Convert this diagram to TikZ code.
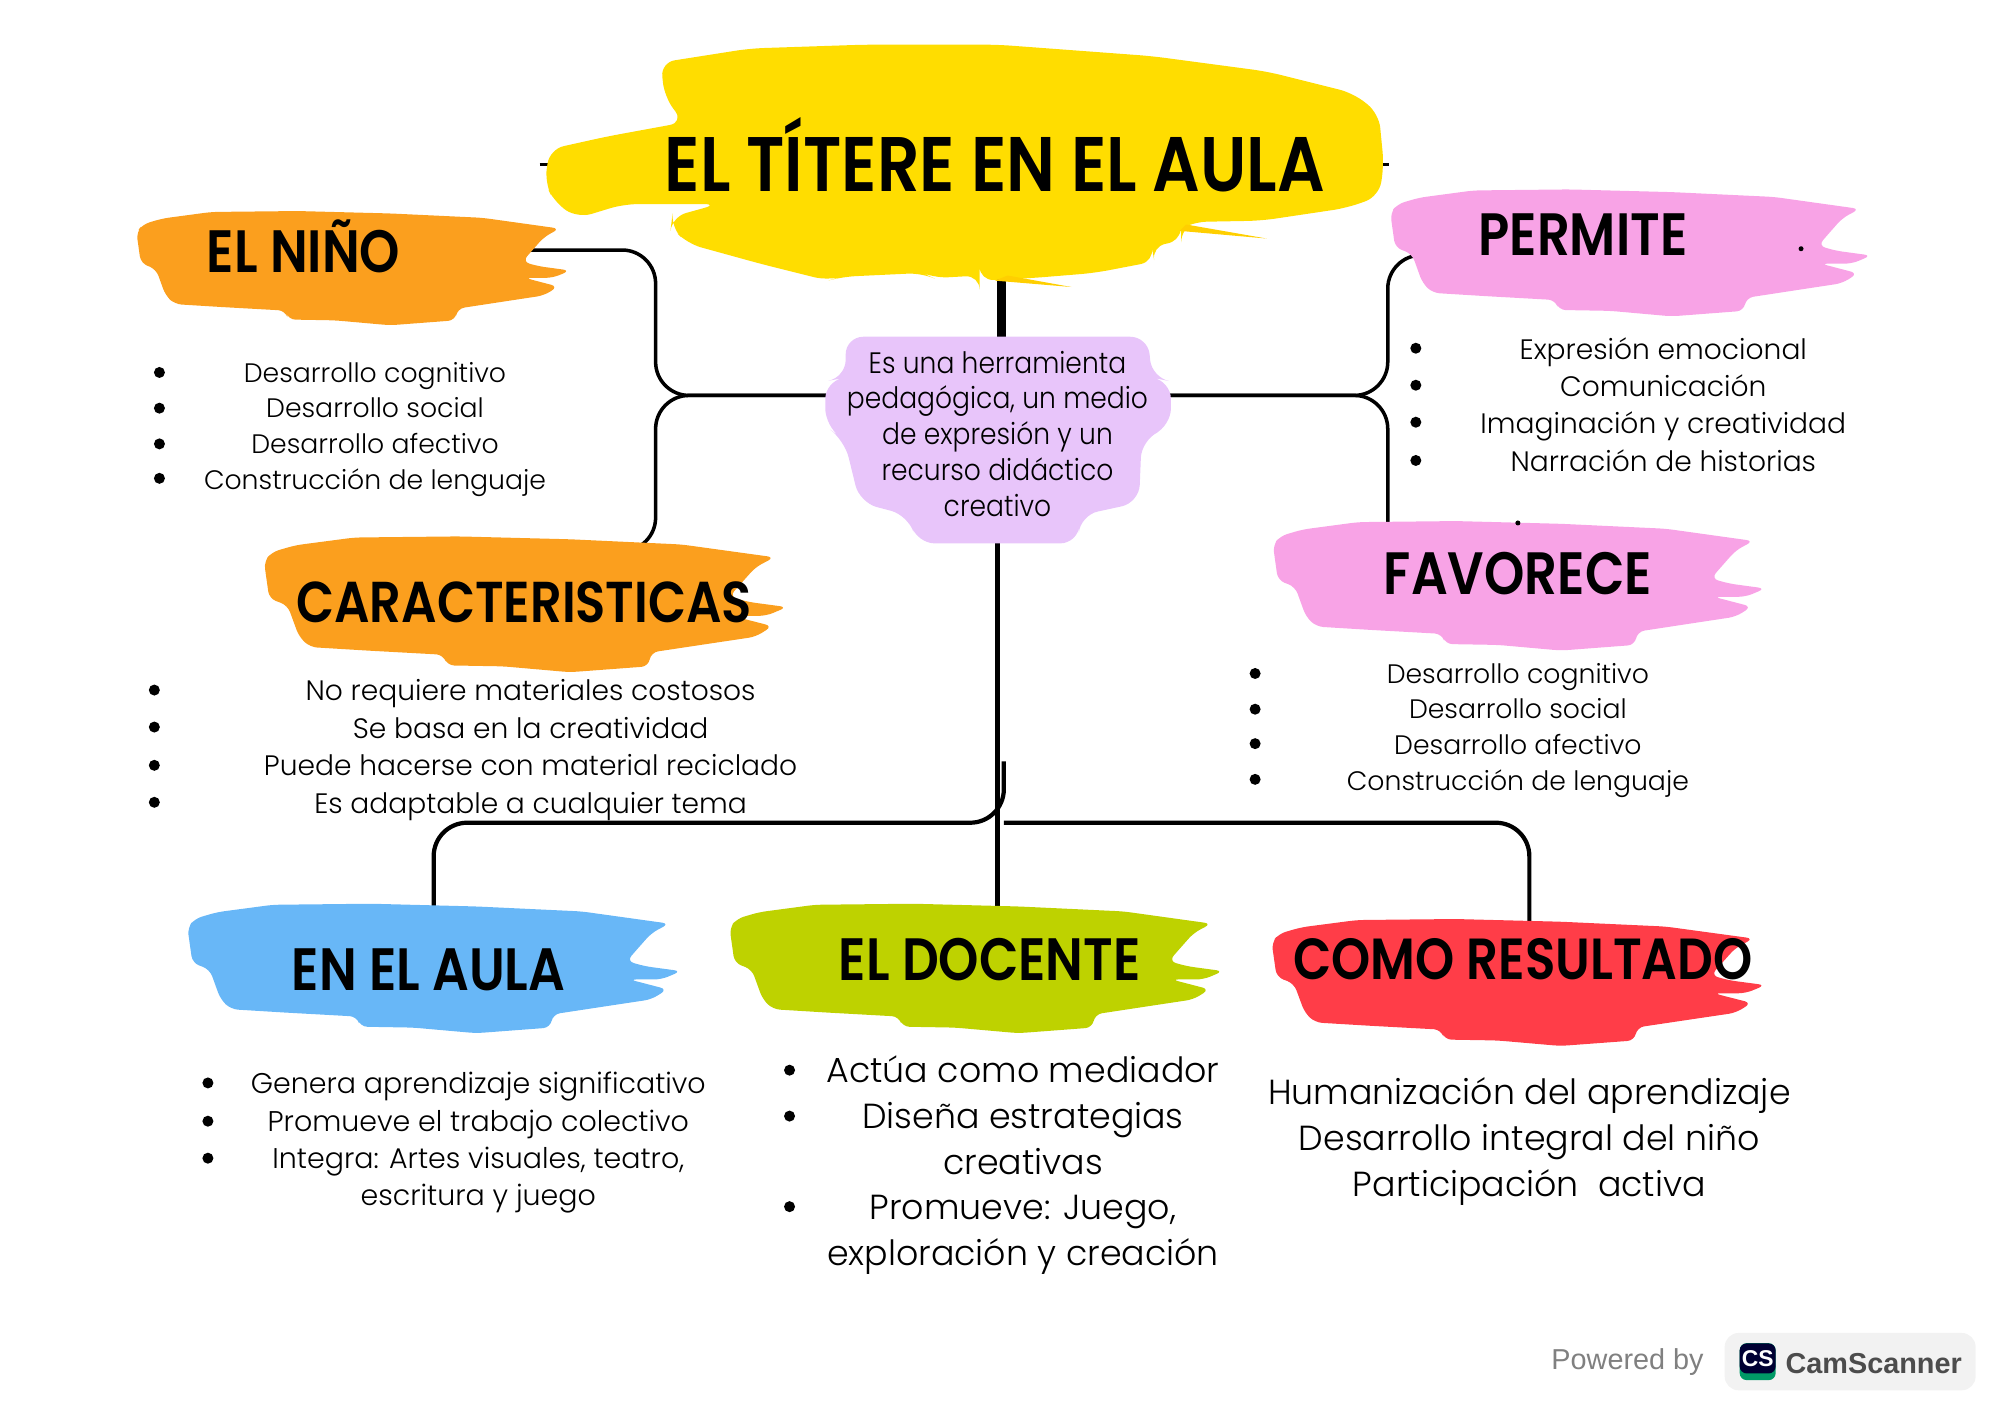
\documentclass[tikz,border=0pt]{standalone}
\usepackage{fontspec}
\usepackage{xcolor}
\usetikzlibrary{backgrounds}
\setmainfont{Poppins}
\newfontfamily\headfont[FakeStretch=0.86]{Poppins SemiBold}
\newfontfamily\bodyfont{Poppins Light}
\newfontfamily\centrofont[FakeStretch=0.9]{Poppins Light}
\newfontfamily\plainfont{Liberation Sans}
\definecolor{brushyellow}{HTML}{FFDD00}
\definecolor{brushorange}{HTML}{FB9F1E}
\definecolor{brushpink}{HTML}{F8A3E6}
\definecolor{brushblue}{HTML}{68B7F7}
\definecolor{brushgreen}{HTML}{BED200}
\definecolor{brushred}{HTML}{FF3D48}
\definecolor{lilac}{HTML}{E8C5FA}
\newcommand{\brushstroke}[5]{%
  \fill[#1,shift={(#2,#3)},x=#4*0.012755cm,y=-#5*0.012755cm,rounded corners=2pt]
    (0,.19) -- (.015,.12) -- (.06,.07) -- (.173,.013) -- (.372,.005) -- (.585,.026)
    -- (.798,.064) -- (.976,.158) -- (.94,.23) -- (.905,.38) -- (.89,.446)
    -- (.926,.485) -- (1,.523) -- (.96,.587) -- (.895,.587) -- (.972,.663)
    -- (.94,.74) -- (.87,.78) -- (.74,.855) -- (.735,.957) -- (.585,1)
    -- (.457,.957) -- (.35,.95) -- (.343,.872) -- (.2,.842) -- (.088,.816)
    -- (.067,.74) -- (.045,.51) -- (.01,.46) -- cycle;
}
\tikzset{
    link/.style = {
        draw            = black,
        line width      = 1pt,
        rounded corners = 0.335cm,
    },
    head/.style = {
        inner sep = 0pt,
        font      = \headfont\fontsize{17}{17}\selectfont,
    },
    lines/.style = {
        inner sep = 0pt,
        align     = center,
        font      = \bodyfont\fontsize{7.6}{10.16}\selectfont,
    },
    dot/.style = {
        circle,
        fill      = black,
        inner sep = 0pt,
        minimum size = 1.1mm,
    },
}

\begin{document}
\begin{tikzpicture}[x=0.012755cm,y=-0.012755cm]
  \useasboundingbox (0,0) rectangle (1568,1108.6);

  % Title and centre
  \node[head,font=\headfont\fontsize{22}{22}\selectfont] (Titulo) at (780,121) {EL TÍTERE EN EL AULA};
  \node[lines,font=\centrofont\fontsize{8.4}{10.16}\selectfont] (Centro) at (782,340) {Es una herramienta\\pedagógica, un medio\\de expresión y un\\recurso didáctico\\creativo};

  % Headings
  \node[head] (Nino) at (238,193) {EL NIÑO};
  \node[head,font=\headfont\fontsize{16.4}{17}\selectfont] (Caract) at (411,472) {CARACTERISTICAS};
  \node[head] (Permite) at (1241,184) {PERMITE};
  \node[head] (Favorece) at (1190,450) {FAVORECE};
  \node[head] (Aula) at (336,760) {EN EL AULA};
  \node[head] (Docente) at (776,752) {EL DOCENTE};
  \node[head,font=\headfont\fontsize{16.5}{17}\selectfont] (Resultado) at (1194,752) {COMO RESULTADO};

  % Where the connectors bend or run in
  \coordinate (TituloL) at (423,129);
  \coordinate (TituloR) at (1089,129);
  \coordinate (TituloPie) at (785,190);
  \coordinate (CentroTop) at (785,270);
  \coordinate (CentroPie) at (782,420);
  \coordinate (CurvaL) at (514,310);
  \coordinate (CurvaR) at (1088,310);
  \coordinate (NinoIn) at (300,196);
  \coordinate (CaractIn) at (470,432);
  \coordinate (PermiteIn) at (1180,200);
  \coordinate (FavoreceIn) at (1088,440);
  \coordinate (RamaTop) at (787,597);
  \coordinate (Rama) at (787,645);
  \coordinate (AulaIn) at (340,730);
  \coordinate (DocenteIn) at (782,730);
  \coordinate (ResultadoIn) at (1199,740);

  \begin{scope}[on background layer]
    \draw[link] (TituloL) to (TituloR);
    \draw[link,line width=2.4pt] (TituloPie) to (CentroTop);
    \draw[link] (NinoIn) -| (CurvaL) -- (CentroPie |- CurvaL);
    \draw[link] (CaractIn) -| (CurvaL) -- (CentroPie |- CurvaL);
    \draw[link] (PermiteIn) -| (CurvaR) -- (CentroPie |- CurvaR);
    \draw[link] (FavoreceIn) -- (CurvaR) -- (CentroPie |- CurvaR);
    \draw[link,line width=1.2pt] (CentroPie) to (DocenteIn);
    \draw[link,line width=1.2pt] (RamaTop) -- (Rama) -| (AulaIn);
    \draw[link,line width=1.2pt] (Rama) -| (ResultadoIn);

    % Brush strokes
    \fill[brushyellow,rounded corners=4pt]
      (518,49) -- (588,38) -- (678,35) -- (782,35) -- (903,44) -- (993,56)
      -- (1061,73) -- (1081,89) -- (1085,130) -- (1081,154) -- (1056,163)
      -- (989,173) -- (935,174) -- (926,179) -- (926,189)
      -- (903,193) -- (905,205) -- (858,214) -- (809,218)
      -- (768,220) -- (768,216) -- (732,218) -- (723,214) -- (660,217)
      -- (649,220) -- (597,207) -- (539,191) -- (526,178) -- (527,170)
      -- (563,160) -- (489,160) -- (453,171) -- (435,159) -- (427,143)
      -- (431,117) -- (476,107) -- (536,96) -- (521,76) -- cycle;
    \fill[brushyellow!85!orange] (930,176) -- (993,187) -- (925,181) -- cycle;
    \fill[brushyellow!85!orange] (790,216) -- (840,225) -- (780,220) -- cycle;
    \brushstroke{brushorange}{107}{165}{340}{90}
    \brushstroke{brushorange}{207}{420}{410}{107}
    \brushstroke{brushpink}{1090}{148}{377}{100}
    \brushstroke{brushpink}{998}{408}{386}{102}
    \brushstroke{brushblue}{147}{708}{387}{102}
    \brushstroke{brushgreen}{572}{708}{387}{102}
    \brushstroke{brushred}{997}{720}{387}{100}

    % Centre blob
    \fill[lilac,rounded corners=5pt]
      (663,264) -- (900,264) -- (903,296) -- (918,299) -- (918,334) -- (895,345)
      -- (893,394) -- (847,404) -- (845,426) -- (719,426) -- (712,404) -- (674,394)
      -- (662,345) -- (647,334) -- (647,299) -- (663,296) -- cycle;
  \end{scope}

  % EL NINO
  \node[lines] (NinoList) at (294,336.5) {Desarrollo cognitivo\\Desarrollo social\\Desarrollo afectivo\\Construcción de lenguaje};
  \node[dot] (NinoA) at (125,292) {};
  \node[dot] (NinoB) at (125,320) {};
  \node[dot] (NinoC) at (125,348) {};
  \node[dot] (NinoD) at (125,375) {};

  % CARACTERISTICAS
  \node[lines,font=\bodyfont\fontsize{8}{10.63}\selectfont] (CaractList) at (416,588) {No requiere materiales costosos\\Se basa en la creatividad\\Puede hacerse con material reciclado\\Es adaptable a cualquier tema};
  \node[dot] (CaractA) at (121,541) {};
  \node[dot] (CaractB) at (121,570) {};
  \node[dot] (CaractC) at (121,600) {};
  \node[dot] (CaractD) at (121,629) {};

  % PERMITE
  \node[lines,font=\bodyfont\fontsize{8}{10.63}\selectfont] (PermiteList) at (1304,317) {Expresión emocional\\Comunicación\\Imaginación y creatividad\\Narración de historias};
  \node[dot] (PermiteA) at (1110,273) {};
  \node[dot] (PermiteB) at (1110,302) {};
  \node[dot] (PermiteC) at (1110,331) {};
  \node[dot] (PermiteD) at (1110,361) {};
  \node[dot,minimum size=0.5mm] (PermiteMota) at (1412,195) {};

  % FAVORECE
  \node[lines] (FavoreceList) at (1190,572.5) {Desarrollo cognitivo\\Desarrollo social\\Desarrollo afectivo\\Construcción de lenguaje};
  \node[dot] (FavoreceA) at (984,528) {};
  \node[dot] (FavoreceB) at (984,556) {};
  \node[dot] (FavoreceC) at (984,583) {};
  \node[dot] (FavoreceD) at (984,611) {};
  \node[dot,minimum size=0.5mm] (FavoreceMota) at (1190,410) {};

  % EN EL AULA
  \node[lines,font=\bodyfont\fontsize{8.1}{10.63}\selectfont] (AulaList) at (375,896) {Genera aprendizaje significativo\\Promueve el trabajo colectivo\\Integra: Artes visuales, teatro,\\escritura y juego};
  \node[dot] (AulaA) at (163,849) {};
  \node[dot] (AulaB) at (163,879) {};
  \node[dot] (AulaC) at (163,908) {};

  % EL DOCENTE
  \node[lines,font=\bodyfont\fontsize{9.9}{13.05}\selectfont] (DocenteList) at (802,913.5) {Actúa como mediador\\Diseña estrategias\\creativas\\Promueve: Juego,\\exploración y creación};
  \node[dot] (DocenteA) at (619,839) {};
  \node[dot] (DocenteB) at (619,875) {};
  \node[dot] (DocenteC) at (619,946) {};

  % COMO RESULTADO
  \node[lines,font=\bodyfont\fontsize{9.9}{13.05}\selectfont] (ResultadoList) at (1199,895) {Humanización del aprendizaje\\Desarrollo integral del niño\\Participación\ \ activa};

  % Badge
  \node[font=\plainfont\fontsize{8.2}{8.2}\selectfont,text=gray,inner sep=0pt] (Powered) at (1276,1068) {Powered by};
  \node[fill=black!5,rounded corners=4pt,minimum width=2.51cm,minimum height=0.574cm,inner sep=0pt] (Badge) at (1450.5,1067.5) {};
  \node[fill=teal!80!green,rounded corners=2pt,minimum width=0.36cm,minimum height=0.37cm,inner sep=0pt] (LogoBase) at (1378,1067.5) {};
  \node[fill=black!80!blue,rounded corners=2pt,minimum width=0.36cm,minimum height=0.3cm,inner sep=0pt,text=white,font=\plainfont\bfseries\fontsize{6.5}{6.5}\selectfont] (Logo) at (1378,1065) {CS};
  \node[font=\plainfont\bfseries\fontsize{8.2}{8.2}\selectfont,text=black!70,inner sep=0pt] (Marca) at (1469,1069) {CamScanner};
\end{tikzpicture}
\end{document}
